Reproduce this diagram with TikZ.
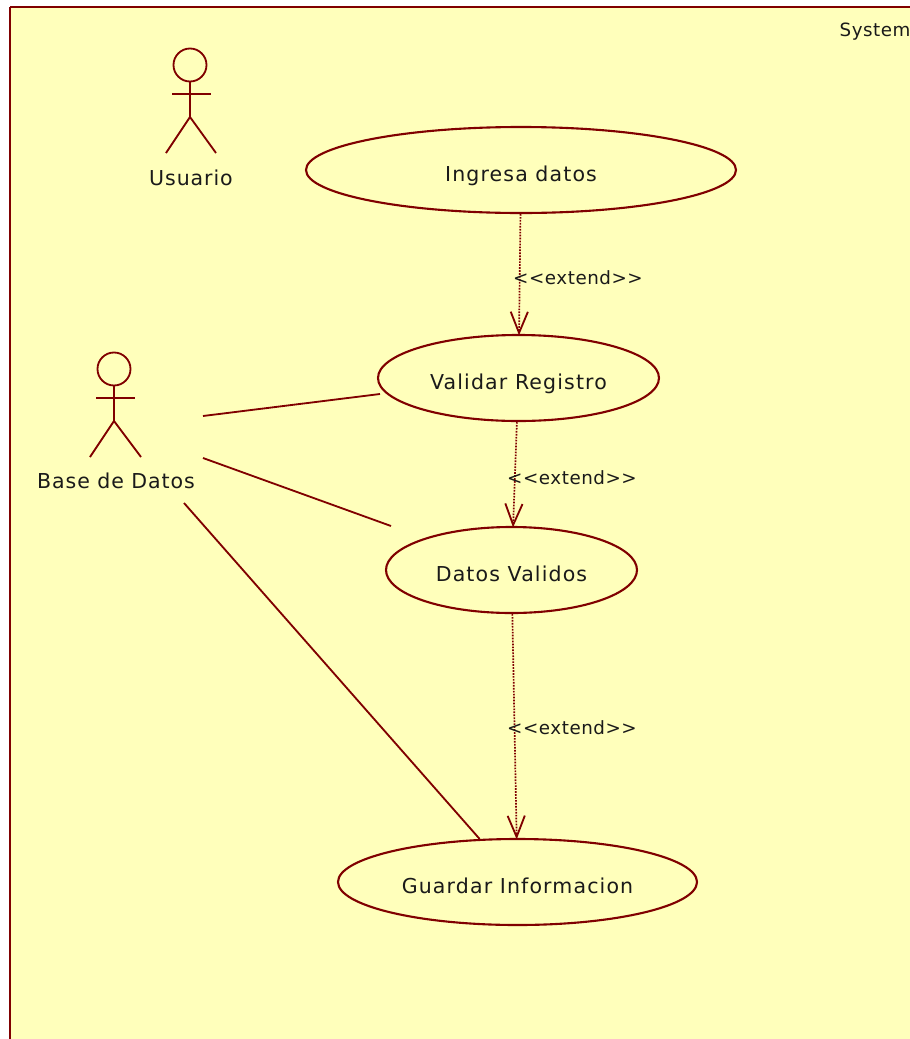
\documentclass[tikz,border=0pt]{standalone}
\usepackage{fontspec}
\setmainfont{DejaVu Sans}
\usetikzlibrary{arrows.meta}
\usetikzlibrary{shapes.geometric}
\pgfdeclarelayer{edgelayer}
\pgfdeclarelayer{nodelayer}
\pgfsetlayers{edgelayer,nodelayer,main}
\definecolor{umlred}{HTML}{800000}
\definecolor{umlpaper}{HTML}{FFFFBB}
\definecolor{umltext}{HTML}{1A1A1A}
\tikzstyle{none}=[inner sep=0pt]
\tikzstyle{usecase}=[ellipse,draw=umlred,line width=1.5pt,inner sep=0pt,text=umltext,text height=0.58cm,text depth=0pt,font=\fontsize{14.6}{17}\selectfont\addfontfeature{LetterSpace=5.5}]
\tikzstyle{head}=[circle,draw=umlred,line width=1.3pt,inner sep=0pt,minimum size=0.825cm]
\tikzstyle{actorname}=[inner sep=0pt,text=umltext,font=\fontsize{14.6}{17}\selectfont\addfontfeature{LetterSpace=4.5}]
\tikzstyle{stereo}=[inner sep=0pt,text=umltext,font=\fontsize{13}{16}\selectfont\addfontfeature{LetterSpace=3}]
\tikzstyle{simple}=[-,draw=umlred,line width=1.3pt]
\tikzstyle{frame}=[-,draw=umlred,line width=1.5pt]
\tikzstyle{extendarrow}=[-{Straight Barb[length=0.53cm,width=0.43cm,line width=1.3pt]},draw=umlred,line width=1.2pt,dash pattern=on 1.2pt off 0.9pt]

\begin{document}
\begin{tikzpicture}
	\useasboundingbox (0, 0) rectangle (22.75, -25.975);
	\begin{pgfonlayer}{nodelayer}
		\node [style=none] (0) at (0.25, -25.975) {};
		\node [style=none] (1) at (0.25, -0.175) {};
		\node [style=none] (2) at (22.75, -0.175) {};
		\node [style=none] (3) at (22.75, -25.975) {};
		\node [style=stereo, anchor=east] (4) at (22.77, -0.78) {System};
		\node [style=head] (5) at (4.75, -1.625) {};
		\node [style=none] (6) at (4.75, -2.925) {};
		\node [style=none] (7) at (4.3, -2.35) {};
		\node [style=none] (8) at (5.275, -2.35) {};
		\node [style=none] (9) at (4.15, -3.825) {};
		\node [style=none] (10) at (5.4, -3.825) {};
		\node [style=actorname] (11) at (4.775, -4.45) {Usuario};
		\node [style=head] (12) at (2.85, -9.225) {};
		\node [style=none] (13) at (2.85, -10.525) {};
		\node [style=none] (14) at (2.4, -9.95) {};
		\node [style=none] (15) at (3.375, -9.95) {};
		\node [style=none] (16) at (2.25, -11.425) {};
		\node [style=none] (17) at (3.525, -11.425) {};
		\node [style=actorname] (18) at (2.9, -12.025) {Base de Datos};
		\node [style=usecase, minimum width=10.75cm, minimum height=2.15cm] (19) at (13.025, -4.25) {Ingresa datos};
		\node [style=usecase, minimum width=7.025cm, minimum height=2.15cm] (20) at (12.9625, -9.45) {Validar Registro};
		\node [style=usecase, minimum width=6.275cm, minimum height=2.15cm] (21) at (12.7875, -14.25) {Datos Validos};
		\node [style=usecase, minimum width=8.975cm, minimum height=2.15cm] (22) at (12.9375, -22.05) {Guardar Informacion};
		\node [style=stereo] (23) at (14.45, -6.95) {<{}<extend>{}>};
		\node [style=stereo] (24) at (14.3, -11.95) {<{}<extend>{}>};
		\node [style=stereo] (25) at (14.3, -18.2) {<{}<extend>{}>};
		\node [style=none] (26) at (5.075, -10.4) {};
		\node [style=none] (27) at (5.075, -11.45) {};
		\node [style=none] (28) at (4.6, -12.575) {};
		\node [style=none] (29) at (9.5, -9.85) {};
		\node [style=none] (30) at (9.775, -13.15) {};
	\end{pgfonlayer}
	\begin{pgfonlayer}{edgelayer}
		\fill [umlpaper] (0.center) -- (1.center) -- (2.center) -- (3.center) -- cycle;
		\draw [style=frame] (0.center) to (1.center);
		\draw [style=frame] (1.center) to (2.center);
		\draw [style=simple] (5) to (6.center);
		\draw [style=simple] (7.center) to (8.center);
		\draw [style=simple] (6.center) to (9.center);
		\draw [style=simple] (6.center) to (10.center);
		\draw [style=simple] (12) to (13.center);
		\draw [style=simple] (14.center) to (15.center);
		\draw [style=simple] (13.center) to (16.center);
		\draw [style=simple] (13.center) to (17.center);
		\draw [style=simple] (26.center) to (29.center);
		\draw [style=simple] (27.center) to (30.center);
		\draw [style=simple] (28.center) to (22);
		\draw [style=extendarrow, shorten >=-1pt] (19) to (20);
		\draw [style=extendarrow, shorten >=-1pt] (20) to (21);
		\draw [style=extendarrow, shorten >=-1pt] (21) to (22);
	\end{pgfonlayer}
\end{tikzpicture}
\end{document}
